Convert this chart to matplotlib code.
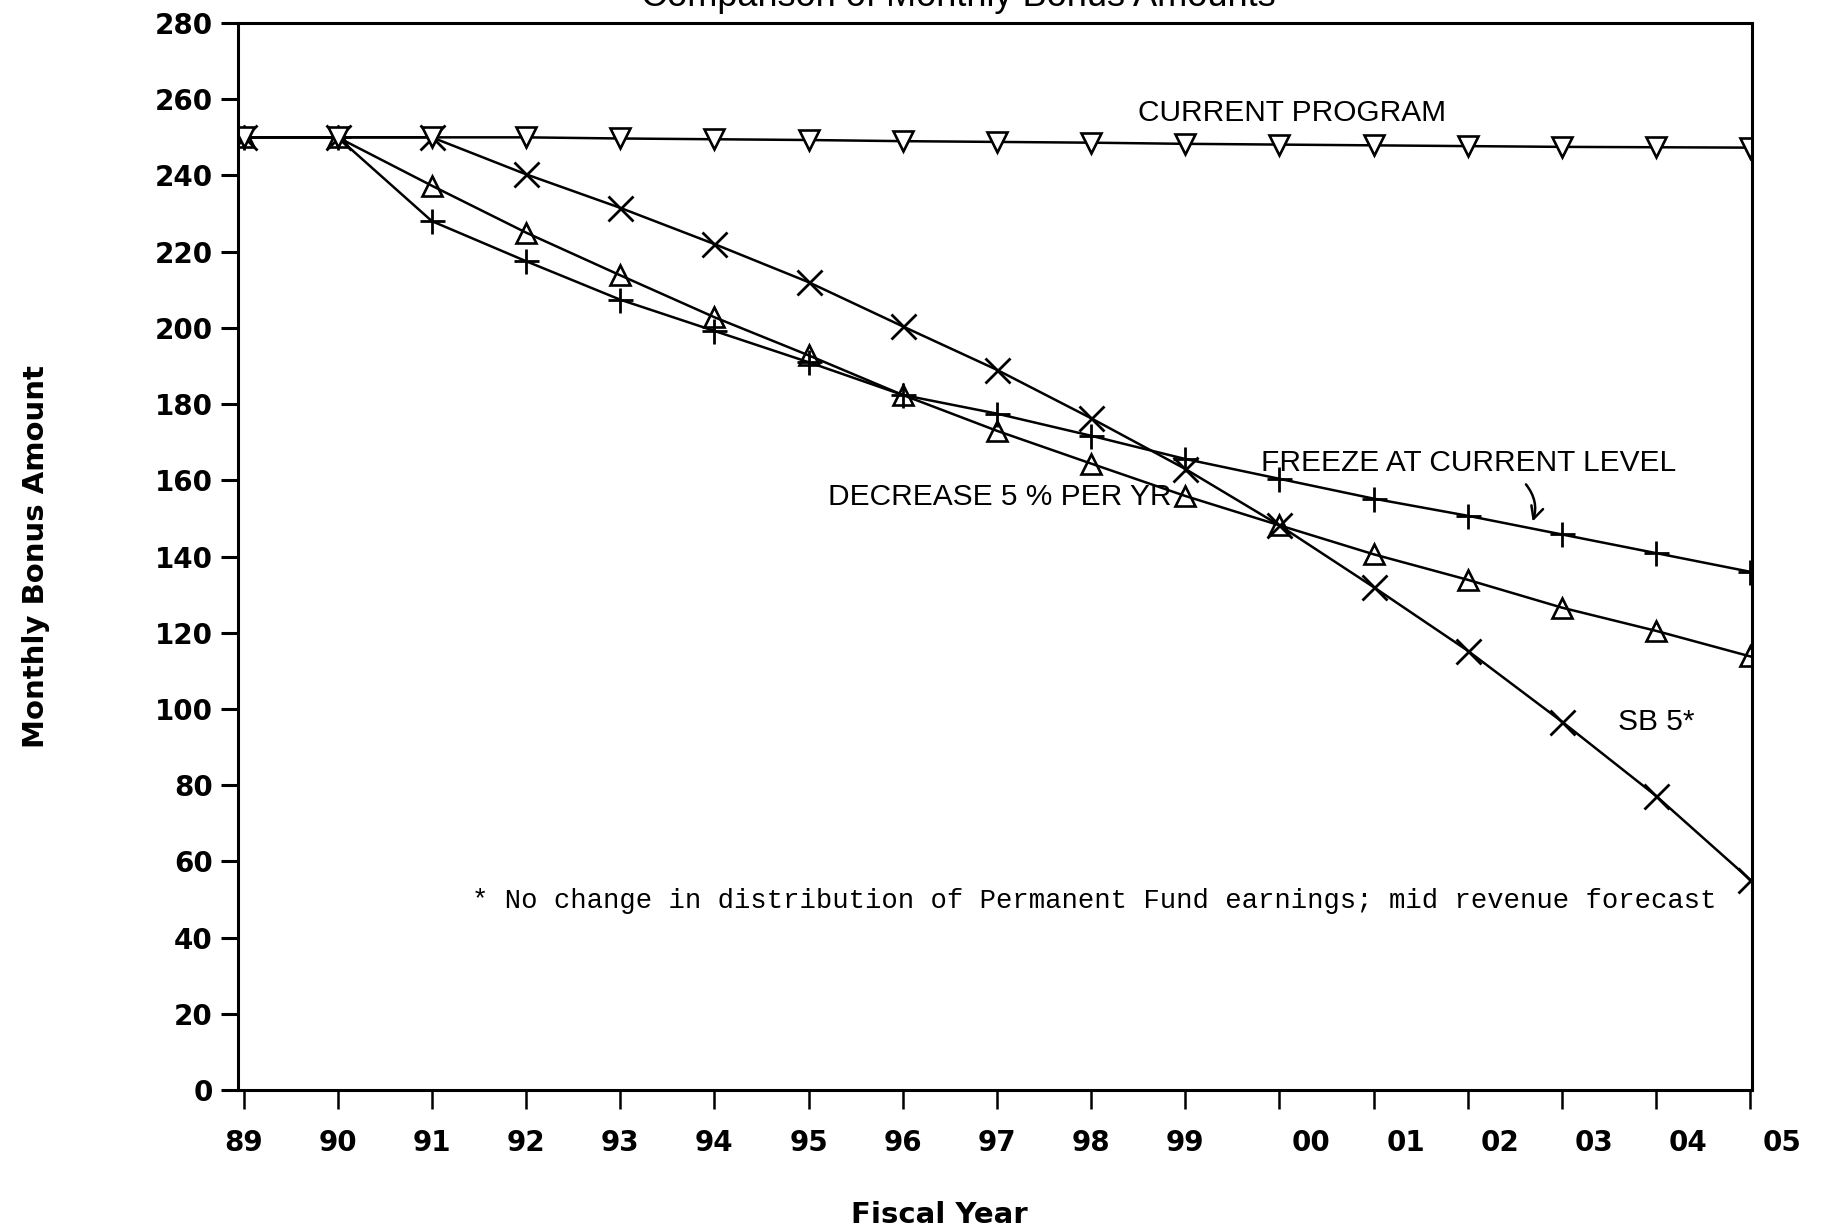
import matplotlib
matplotlib.use("Agg")
import matplotlib.pyplot as plt
from matplotlib.transforms import ScaledTranslation

years = ["89", "90", "91", "92", "93", "94", "95", "96", "97", "98", "99",
         "00", "01", "02", "03", "04", "05"]

current_program = [250, 250, 250, 250, 249.7, 249.5, 249.3, 249.0, 248.8,
                   248.6, 248.3, 248.1, 247.9, 247.7, 247.5, 247.4, 247.3]
sb5 = [250, 250, 250, 240.3, 231.5, 222, 212, 200.4, 189, 176.3, 163,
       148.2, 132, 115.3, 96.7, 77.2, 55.2]
decrease_5pct = [250, 250, 237.3, 225, 213.8, 202.8, 192.8, 182.4, 173,
                 164.4, 155.9, 148.2, 140.6, 133.9, 126.6, 120.5, 113.8]
freeze = [250, 250, 228, 217.5, 207.4, 199.2, 191, 182.4, 177.5, 171.7,
          165.6, 160.4, 155.2, 150.7, 145.8, 140.9, 136]

LABEL_FONT = ["Liberation Sans", "DejaVu Sans"]

fig = plt.figure(figsize=(18.22, 12.31), dpi=100)
ax = fig.add_axes([0.1306, 0.1145, 0.831, 0.8668])

x = list(range(len(years)))
line_kw = dict(color="black", linewidth=1.8)

ax.plot(x, sb5, marker="x", markersize=18, markeredgewidth=2.0, **line_kw)
ax.plot(x, freeze, marker="+", markersize=18, markeredgewidth=2.0, **line_kw)
ax.plot(x, decrease_5pct, marker="^", markersize=14, markerfacecolor="none",
        markeredgewidth=1.9, **line_kw)
ax.plot(x, current_program, marker="v", markersize=14, markerfacecolor="white",
        markeredgewidth=1.9, **line_kw)

ax.set_xlim(-0.06, 16.02)
ax.set_ylim(0, 280)
ax.set_yticks(range(0, 281, 20))
ax.set_xticks(x)
ax.set_xticklabels(years)

for side in ax.spines.values():
    side.set_linewidth(2.2)

ax.tick_params(axis="y", length=12, width=2.2, pad=6, labelsize=20)
ax.tick_params(axis="x", length=14, width=1.8, pad=14, labelsize=20)
for lab in ax.get_xticklabels() + ax.get_yticklabels():
    lab.set_fontweight("bold")

# the 00..05 labels sit a bit to the right of their ticks in the original
shift = ScaledTranslation(0.32, 0, fig.dpi_scale_trans)
for lab in ax.get_xticklabels()[11:]:
    lab.set_transform(lab.get_transform() + shift)

ax.set_ylabel("Monthly Bonus Amount", fontsize=21, fontweight="bold")
ax.set_xlabel("Fiscal Year", fontsize=21, fontweight="bold")
ax.xaxis.set_label_coords(0.463, -0.104)
ax.yaxis.set_label_coords(-0.124, 0.5)

# series labels
ax.text(9.5, 256.5, "CURRENT PROGRAM", family=LABEL_FONT, fontsize=21.5,
        va="center", ha="left")
ax.text(10.8, 164.5, "FREEZE AT CURRENT LEVEL", family=LABEL_FONT,
        fontsize=21.5, va="center", ha="left")
ax.text(9.85, 155.5, "DECREASE 5 % PER YR", family=LABEL_FONT, fontsize=21.5,
        va="center", ha="right")
ax.text(14.6, 96.5, "SB 5*", family=LABEL_FONT, fontsize=21.5,
        va="center", ha="left")
ax.annotate("", xy=(13.68, 148.5), xytext=(13.6, 159.5),
            arrowprops=dict(arrowstyle="->", color="black", lw=1.8,
                            connectionstyle="arc3,rad=-0.3",
                            mutation_scale=22))

ax.text(2.43, 49.5,
        "* No change in distribution of Permanent Fund earnings; mid revenue forecast",
        family=["Liberation Mono", "DejaVu Sans Mono"], fontsize=19.6,
        va="center", ha="left")

# title is mostly cropped off the top of the scan
fig.text(0.526, 1 - 6 / 1231, "Comparison of Monthly Bonus Amounts",
         family=LABEL_FONT, fontsize=26, ha="center", va="baseline")

fig.savefig("out.png", dpi=100, facecolor="white")
